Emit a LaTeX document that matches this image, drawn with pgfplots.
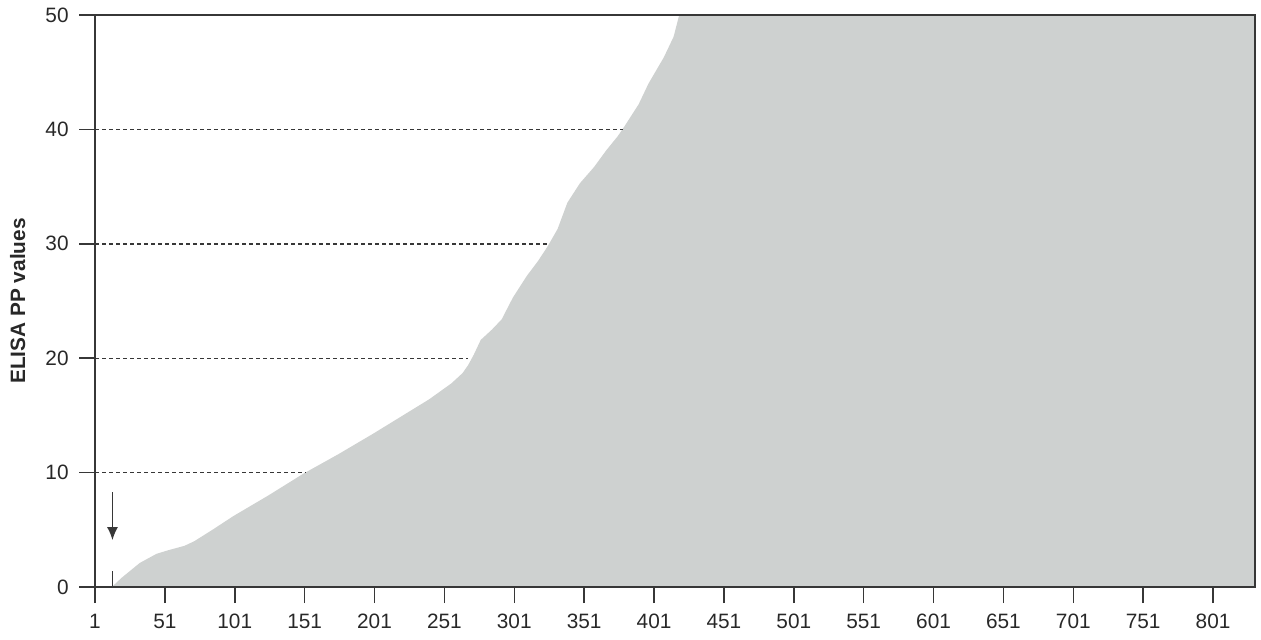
\documentclass[border=0pt]{standalone}
\usepackage{pgfplots}
\pgfplotsset{compat=1.18}
\usepackage{fontspec}
\setmainfont{Liberation Sans}
\usetikzlibrary{arrows.meta}
\definecolor{fillgray}{RGB}{206,209,208}
\definecolor{axgray}{RGB}{55,55,55}
\definecolor{txtgray}{RGB}{40,40,40}

% sorted ELISA PP values (values above 50 are cut at the top of the axis)
\pgfplotstableread{
x   v
13  0
20  0.8
33  2.1
45  2.9
53  3.2
65  3.6
72  4.0
85  5.0
100 6.2
125 8.0
150 9.9
175 11.6
200 13.4
220 14.9
240 16.4
256 17.8
264 18.7
268 19.4
272 20.3
277 21.6
285 22.5
292 23.4
300 25.3
310 27.2
318 28.5
325 29.8
332 31.3
339 33.6
348 35.3
358 36.7
367 38.2
375 39.4
380 40.3
390 42.2
397 44.0
408 46.3
415 48.1
419 50.0
422 55
831 60
}\ppdata

\begin{document}
\begin{tikzpicture}
\path[use as bounding box] (0,0) rectangle (630.5pt,319.5pt);
\begin{axis}[
  at={(47.5pt,26pt)}, anchor=south west,
  scale only axis, width=580pt, height=286pt,
  xmin=1, xmax=831, ymin=0, ymax=50,
  xtick={1,51,...,801}, ytick={0,10,...,50},
  tick align=outside, xtick pos=left, ytick pos=left,
  major tick length=8pt,
  axis line style={axgray, line width=0.75pt},
  tick style={axgray, line width=0.75pt},
  ticklabel style={font=\fontsize{10.4}{12}\selectfont, text=txtgray},
  /pgf/number format/assume math mode=true,
  yticklabel style={anchor=east, inner sep=0pt, xshift=-5pt},
  xticklabel style={anchor=north, inner sep=0pt, yshift=-5.5pt},
  ylabel={ELISA PP values},
  ylabel style={font=\fontsize{10.4}{12}\selectfont\bfseries, text=txtgray,
    at={(axis description cs:-0.0603,0.5)}, anchor=base},
  axis on top,
]
\addplot[draw=none, fill=fillgray] table[x=x, y=v] {\ppdata} \closedcycle;
% reference levels
\addplot[axgray, line width=0.7pt, dash pattern=on 2pt off 1.5pt] coordinates {(1,10) (152,10)};
\addplot[axgray, line width=0.7pt, dash pattern=on 2pt off 1.5pt] coordinates {(1,20) (268,20)};
\addplot[axgray, line width=0.7pt, dash pattern=on 2pt off 1.5pt] coordinates {(1,30) (325,30)};
\addplot[axgray, line width=0.7pt, dash pattern=on 2pt off 1.5pt] coordinates {(1,40) (379,40)};
% cut-off marker
\addplot[axgray, line width=0.75pt] coordinates {(13.5,0) (13.5,1.4)};
\addplot[axgray, line width=0.75pt, -{Latex[length=6.5pt,width=5.5pt]}] coordinates {(13.5,8.3) (13.5,4.1)};
\end{axis}
\end{tikzpicture}
\end{document}
